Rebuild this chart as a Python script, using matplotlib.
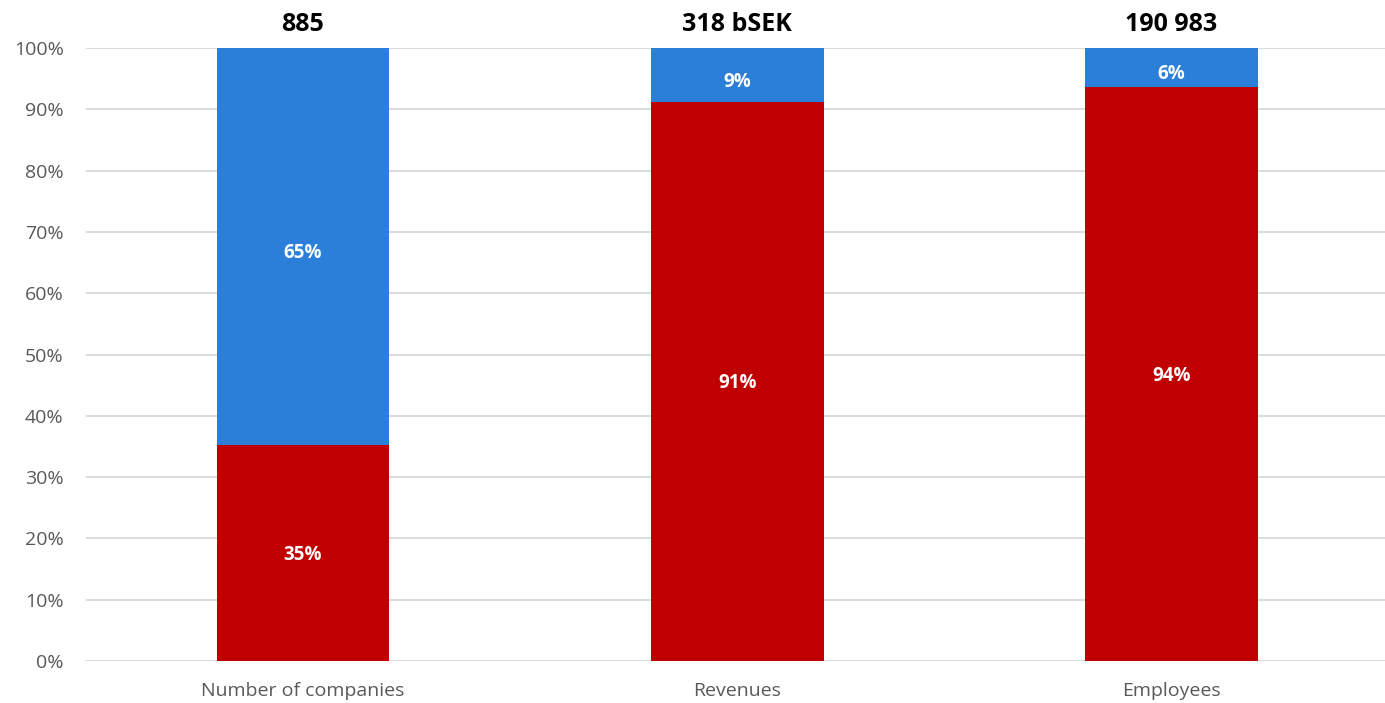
import matplotlib
matplotlib.use("Agg")
import matplotlib.pyplot as plt
import numpy as np
from matplotlib.ticker import PercentFormatter

plt.rcParams['font.family'] = ['Open Sans', 'DejaVu Sans']

categories = ["Number of companies", "Revenues", "Employees"]
red_share = [35.2, 91.2, 93.6]
blue_share = [64.8, 8.8, 6.4]
red_labels = ["35%", "91%", "94%"]
blue_labels = ["65%", "9%", "6%"]
totals = ["885", "318 bSEK", "190 983"]
yticks = list(range(0, 101, 10))

RED = "#C00000"
BLUE = "#2B7FD8"

fig = plt.figure(figsize=(13.85, 7.03), dpi=100)
ax = fig.add_axes([0.062, 0.0597, 0.9405, 0.872])

x = np.arange(len(categories))
w = 0.398
ax.bar(x, red_share, width=w, color=RED, zorder=3)
ax.bar(x, blue_share, width=w, bottom=red_share, color=BLUE, zorder=3)

for i in range(len(categories)):
    ax.text(x[i], red_share[i] / 2 - 0.3, red_labels[i], ha='center', va='center',
            color='white', fontsize=13.5, fontweight='bold', zorder=4)
    ax.text(x[i], red_share[i] + blue_share[i] / 2 - 1.1, blue_labels[i], ha='center', va='center',
            color='white', fontsize=13.5, fontweight='bold', zorder=4)
    ax.text(x[i], 101.8, totals[i], ha='center', va='bottom',
            color='black', fontsize=18, fontweight='bold', zorder=4)

ax.set_xlim(-0.5, 2.5)
ax.set_ylim(0, 100)
ax.set_yticks(yticks)
ax.yaxis.set_major_formatter(PercentFormatter(decimals=0))
ax.set_xticks(x)
ax.set_xticklabels(categories)
ax.tick_params(axis='both', length=0, labelsize=14, labelcolor='#595959')
ax.tick_params(axis='x', pad=15)
ax.tick_params(axis='y', pad=16)
ax.grid(axis='y', color='#D9D9D9', linewidth=1.3, zorder=0)
for s in ['top', 'right', 'left', 'bottom']:
    ax.spines[s].set_visible(False)
ax.axhline(0, color='#D9D9D9', linewidth=1.3, zorder=2)

fig.savefig("out.png", dpi=100)
